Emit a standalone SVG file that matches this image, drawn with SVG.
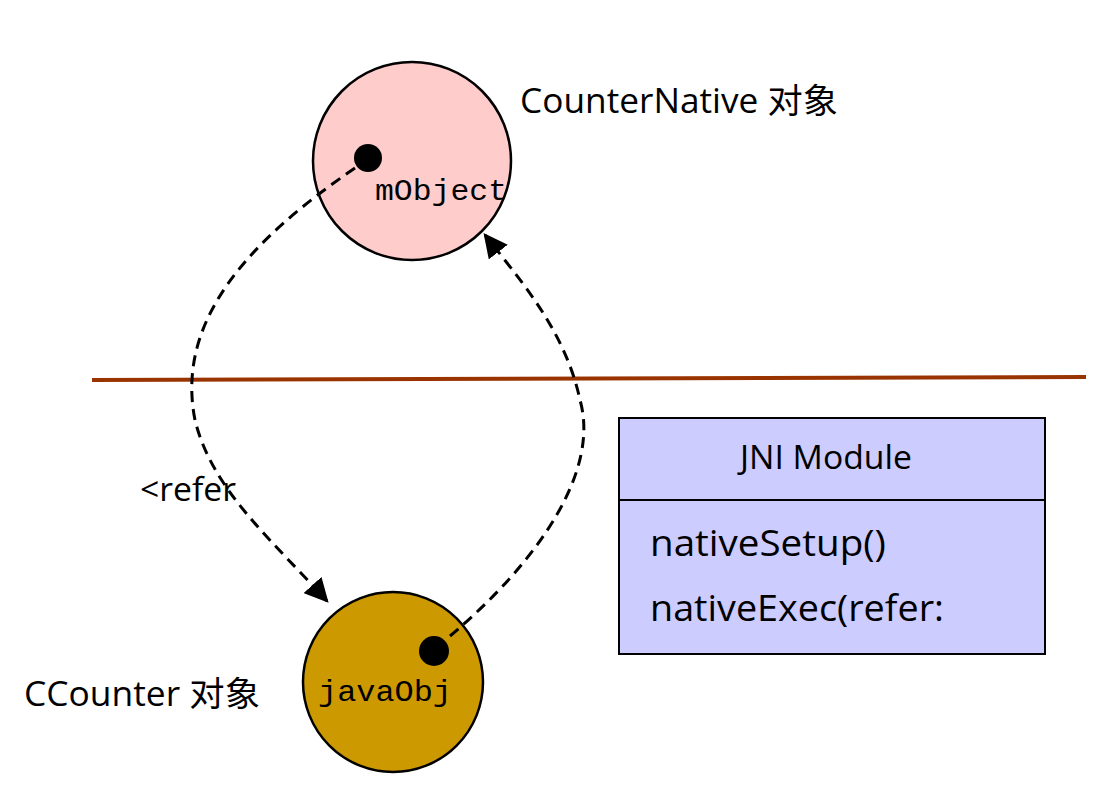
<svg xmlns="http://www.w3.org/2000/svg" width="1114" height="804" viewBox="0 0 1114 804">
<defs>
<marker id="arr" viewBox="0 0 10 10" refX="9" refY="5" markerWidth="8" markerHeight="8" markerUnits="strokeWidth" orient="auto">
<path d="M0,0 L10,5 L0,10 z" fill="#000"/>
</marker>
<style>
.lbl{font-family:"Open Sans","Noto Sans","Noto Sans CJK SC",sans-serif;fill:#000}
.mono{font-family:"Liberation Mono","DejaVu Sans Mono",monospace;fill:#000}
.conn{fill:none;stroke:#000;stroke-width:3;stroke-dasharray:11 7}
</style>
</defs>
<rect width="1114" height="804" fill="#fff"/>
<line x1="92" y1="380" x2="1086" y2="377" stroke="#993300" stroke-width="4"/>
<g id="counterNative">
<circle cx="412" cy="161" r="99" fill="#FFCCCC" stroke="#000" stroke-width="2.5"/>
<circle cx="368" cy="158" r="14" fill="#000"/>
<text class="mono" x="375" y="200" font-size="30" textLength="132" lengthAdjust="spacingAndGlyphs">mObject</text>
<text class="lbl" x="520" y="113" font-size="34" textLength="318" lengthAdjust="spacingAndGlyphs">CounterNative 对象</text>
</g>
<g id="cCounter">
<circle cx="393" cy="682" r="90" fill="#CC9900" stroke="#000" stroke-width="2.5"/>
<circle cx="434" cy="651" r="15" fill="#000"/>
<text class="mono" x="318" y="701" font-size="30" textLength="134" lengthAdjust="spacingAndGlyphs">javaObj</text>
<text class="lbl" x="24" y="706" font-size="34" textLength="236" lengthAdjust="spacingAndGlyphs">CCounter 对象</text>
</g>
<g id="jniModule">
<rect x="619" y="418" width="426" height="236" fill="#CCCCFF" stroke="#000" stroke-width="2"/>
<line x1="619" y1="500" x2="1045" y2="500" stroke="#000" stroke-width="2"/>
<text class="lbl" x="740" y="469" font-size="32" textLength="172" lengthAdjust="spacingAndGlyphs">JNI Module</text>
<text class="lbl" x="650" y="556" font-size="37" textLength="236" lengthAdjust="spacingAndGlyphs">nativeSetup()</text>
<text class="lbl" x="650" y="621" font-size="37" textLength="294" lengthAdjust="spacingAndGlyphs">nativeExec(refer:</text>
</g>
<g id="connectors">
<path class="conn" d="M355,168 C250,240 175,320 195,420 C212,490 272,540 327,601" marker-end="url(#arr)"/>
<path class="conn" d="M450,636 C540,560 600,470 580,400 C565,330 520,280 485,235" marker-end="url(#arr)"/>
<text class="lbl" x="140" y="501" font-size="32" textLength="96" lengthAdjust="spacingAndGlyphs">&lt;refer</text>
</g>
</svg>
